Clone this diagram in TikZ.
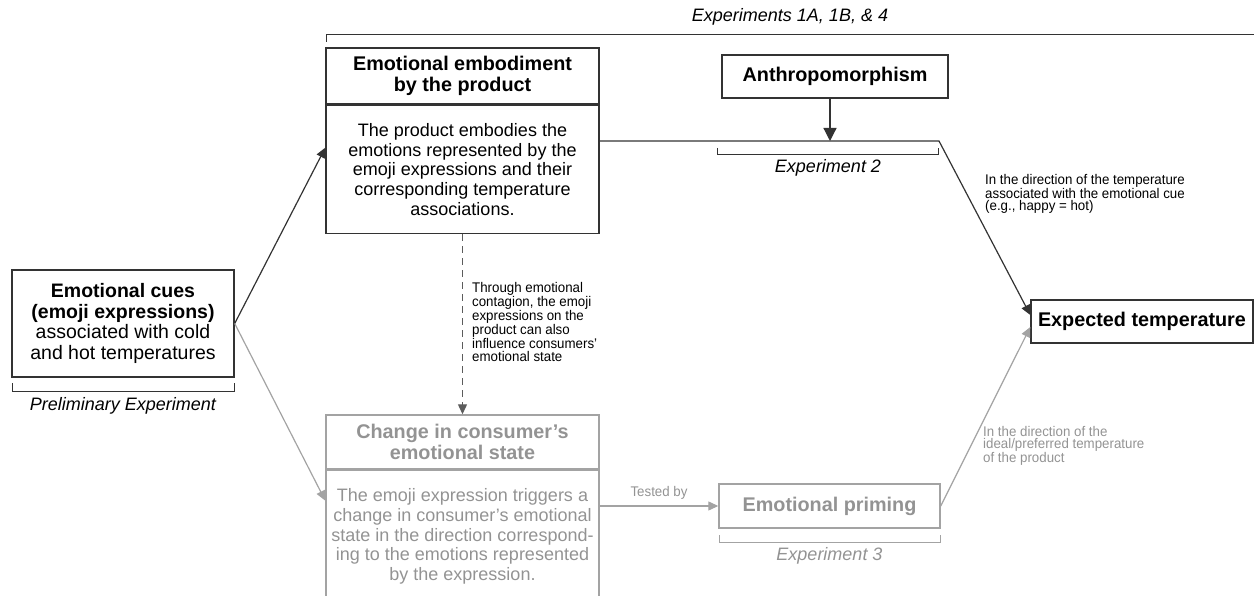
\documentclass[tikz,border=0pt]{standalone}
\usepackage{fontspec}
\setmainfont{Liberation Sans}
\newfontfamily\narrowsans[FakeStretch=0.95]{Liberation Sans}
\usetikzlibrary{arrows.meta}
\usetikzlibrary{calc,positioning}

\definecolor{inkdark}{HTML}{333333}
\definecolor{inkgray}{HTML}{A3A3A3}
\definecolor{textgray}{HTML}{939393}

\begin{document}
\begin{tikzpicture}[x=1pt,y=-1pt,
    box/.style={draw=inkdark,line width=1.4pt,inner sep=0pt,align=center,text=black},
    graybox/.style={box,draw=inkgray,text=textgray},
    bigtitle/.style={font=\fontsize{19.8}{21.5}\selectfont\bfseries},
    bodytext/.style={font=\fontsize{18}{19.6}\selectfont},
    note/.style={font={\narrowsans\fontsize{14}{12.6}\selectfont},align=left,inner sep=0pt},
    explabel/.style={font=\fontsize{18}{20}\selectfont\itshape},
    conn/.style={draw=inkdark,line width=1.2pt},
    grayconn/.style={draw=inkgray,line width=1.2pt},
    tip/.style={-{Triangle[length=10pt,width=9pt]}}
  ]
  \useasboundingbox (0,0) rectangle (1254,596);

  % boxes
  \node[box,font=\fontsize{19.5}{20.7}\selectfont,minimum width=222pt,minimum height=107pt] (cues) at (123,323.5)
    {\textbf{Emotional cues}\\\textbf{(emoji expressions)}\\associated with cold\\and hot temperatures};

  \node[box,bigtitle,minimum width=273pt,minimum height=56pt] (embhead) at (462.5,76)
    {Emotional embodiment\\by the product};
  \node[box,bodytext,minimum width=273pt,minimum height=128pt,below=0pt of embhead] (embbody)
    {The product embodies the\\emotions represented by the\\emoji expressions and their\\corresponding temperature\\associations.};

  \node[graybox,bigtitle,minimum width=273pt,minimum height=54pt] (chghead) at (462.5,442)
    {Change in consumer’s\\emotional state};
  \node[graybox,bodytext,minimum width=273pt,minimum height=132pt,below=0pt of chghead] (chgbody)
    {The emoji expression triggers a\\change in consumer’s emotional\\state in the direction correspond-\\ing to the emotions represented\\by the expression.};

  \node[box,bigtitle,minimum width=226pt,minimum height=43pt] (anthro) at (835,76.5) {Anthropomorphism};
  \node[graybox,bigtitle,minimum width=221pt,minimum height=44pt] (priming) at (829.5,506) {Emotional priming};
  \node[box,bigtitle,minimum width=222pt,minimum height=43pt] (exptemp) at (1142,321.5) {Expected temperature};

  % connectors
  \coordinate (bend) at (939,141);
  \draw[conn,tip] (cues.east) -- ([yshift=-43pt]embbody.north west);
  \draw[grayconn,tip] (cues.east) -- ([yshift=-31pt]chgbody.north west);
  \draw[conn,tip] (embbody.east |- bend) -- (bend) -- ([yshift=6.5pt]exptemp.west);
  \draw[conn,-{Triangle[length=13pt,width=13pt]}] (anthro.south -| 830,0) -- (830,0 |- bend);
  \draw[draw=inkdark!80,line width=1.2pt,dash pattern=on 7pt off 5pt,tip] (embbody.south) -- (chghead.north);
  \draw[grayconn,tip] (chgbody.east |- priming.west) --
    node[above=3pt,font={\narrowsans\fontsize{14}{12.6}\selectfont},text=textgray] (testedby) {Tested by} (priming.west);
  \draw[grayconn,tip] (priming.east) -- ([yshift=-5.5pt]exptemp.west);

  % experiment brackets
  \draw[conn,line width=1pt] (326,42) -- (326,35) -- (1254,35);
  \node[explabel] (exptop) at (790,17) {Experiments 1A, 1B, \& 4};
  \draw[conn,line width=1pt] (717,148) -- (717,155) -- (938,155) -- (938,148);
  \node[explabel] (exptwo) at (828,168) {Experiment 2};
  \draw[grayconn,line width=1pt] (719,535) -- (719,542) -- (940,542) -- (940,535);
  \node[explabel,text=textgray] (expthree) at (829.5,556) {Experiment 3};
  \draw[conn,line width=1pt] (12,383) -- (12,391) -- (234,391) -- (234,383);
  \node[explabel] (prelim) at (123,406) {Preliminary Experiment};

  % notes
  \node[note,anchor=north west] (contag) at (472,282)
    {Through emotional\\contagion, the emoji\\expressions on the\\product can also\\influence consumers’\\emotional state};
  \node[note,anchor=north west] (hotnote) at (985,174)
    {In the direction of the temperature\\associated with the emotional cue\\(e.g., happy = hot)};
  \node[note,anchor=north west,text=textgray] (idealnote) at (983,426)
    {In the direction of the\\ideal/preferred temperature\\of the product};
\end{tikzpicture}
\end{document}
